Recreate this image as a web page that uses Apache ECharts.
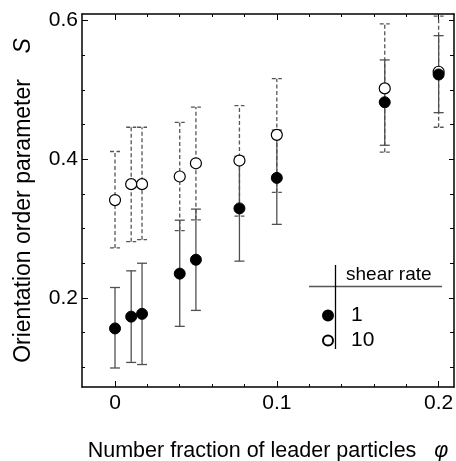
<!DOCTYPE html>
<html>
<head>
<meta charset="utf-8">
<script src="https://cdn.jsdelivr.net/npm/echarts@6/dist/echarts.min.js"></script>
<style>
  html, body { margin: 0; padding: 0; background: #fff; }
  #chart { width: 456px; height: 461px; }
</style>
</head>
<body>
<div id="chart"></div>
<script>
// number fraction of leader particles
const phi = [0, 0.01, 0.0167, 0.04, 0.05, 0.0769, 0.1, 0.1667, 0.2]

// shear rate 1 (filled)
const S1 = [0.156, 0.173, 0.177, 0.235, 0.255, 0.329, 0.373, 0.482, 0.522]
const lo1 = [0.099, 0.107, 0.104, 0.159, 0.182, 0.253, 0.306, 0.420, 0.467]
const hi1 = [0.215, 0.239, 0.250, 0.312, 0.328, 0.404, 0.442, 0.543, 0.578]

// shear rate 10 (open)
const S10 = [0.341, 0.364, 0.364, 0.375, 0.394, 0.398, 0.435, 0.502, 0.526]
const lo10 = [0.272, 0.281, 0.284, 0.297, 0.3125, 0.318, 0.352, 0.410, 0.446]
const hi10 = [0.411, 0.446, 0.446, 0.453, 0.475, 0.477, 0.516, 0.595, 0.606]

const xMajor = [0, 0.1, 0.2]
const xMinor = [0.02, 0.04, 0.06, 0.08, 0.12, 0.14, 0.16, 0.18]
const yMajor = [0.2, 0.4, 0.6]
const yMinor = [0.1, 0.15, 0.25, 0.3, 0.35, 0.45, 0.5, 0.55]

const FONT = '"Liberation Sans", Arial, sans-serif'
const X_MIN = -0.0204, X_MAX = 0.2095
const Y_MIN = 0.0716, Y_MAX = 0.6092

const chart = echarts.init(document.getElementById('chart'))

const mkX = (position, ticks, len, withLine, withLabel) => ({
  type: 'value',
  position,
  min: X_MIN,
  max: X_MAX,
  splitLine: { show: false },
  axisLine: { show: withLine, onZero: false, lineStyle: { color: '#000', width: 1.5 } },
  axisTick: { show: true, inside: true, length: len, customValues: ticks, lineStyle: { color: '#000', width: 1 } },
  axisLabel: {
    show: withLabel,
    customValues: ticks,
    margin: 6,
    color: '#000',
    fontSize: 21,
    fontFamily: FONT,
    formatter: v => String(+v.toFixed(2))
  }
})

const mkY = (position, ticks, len, withLine, withLabel) => ({
  type: 'value',
  position,
  min: Y_MIN,
  max: Y_MAX,
  splitLine: { show: false },
  axisLine: { show: withLine, onZero: false, lineStyle: { color: '#000', width: 1.5 } },
  axisTick: { show: true, inside: true, length: len, customValues: ticks, lineStyle: { color: '#000', width: 1 } },
  axisLabel: {
    show: withLabel,
    customValues: ticks,
    margin: 4,
    color: '#000',
    fontSize: 21,
    fontFamily: FONT,
    formatter: v => String(+v.toFixed(2))
  }
})

const xAxes = [
  mkX('bottom', xMajor, 6, true, true),
  mkX('bottom', xMinor, 3, false, false),
  mkX('top', xMajor, 6, true, false),
  mkX('top', xMinor, 3, false, false),
]
Object.assign(xAxes[0], {
  name: 'Number fraction of leader particles   {i|φ}',
  nameLocation: 'middle',
  nameGap: 53,
  nameTextStyle: {
    color: '#000', fontSize: 21.5, fontFamily: FONT,
    rich: { i: { fontStyle: 'italic', fontSize: 21.5, fontFamily: FONT, color: '#000' } }
  }
})

const yAxes = [
  mkY('left', yMajor, 6, true, true),
  mkY('left', yMinor, 3, false, false),
  mkY('right', yMajor, 5, true, false),
  mkY('right', yMinor, 4, false, false),
]
Object.assign(yAxes[0], {
  name: 'Orientation order parameter    {i|S}',
  nameLocation: 'middle',
  nameGap: 47,
  nameTextStyle: {
    color: '#000', fontSize: 23, fontFamily: FONT,
    rich: { i: { fontStyle: 'italic', fontSize: 23, fontFamily: FONT, color: '#000' } }
  }
})

const errorBars = (lo, hi, dashed, color) => ({
  type: 'custom',
  name: dashed ? 'err10' : 'err1',
  xAxisIndex: 0,
  yAxisIndex: 0,
  silent: true,
  data: phi.map((x, i) => [x, lo[i], hi[i]]),
  renderItem: (params, api) => {
    const x = api.value(0)
    const pLo = api.coord([x, api.value(1)])
    const pHi = api.coord([x, api.value(2)])
    const w = 5
    const style = { stroke: color, lineWidth: 1.3, lineDash: dashed ? [4, 2.5] : null }
    return {
      type: 'group',
      children: [
        { type: 'line', shape: { x1: pLo[0], y1: pLo[1], x2: pHi[0], y2: pHi[1] }, style },
        { type: 'line', shape: { x1: pLo[0] - w, y1: pLo[1], x2: pLo[0] + w, y2: pLo[1] }, style },
        { type: 'line', shape: { x1: pHi[0] - w, y1: pHi[1], x2: pHi[0] + w, y2: pHi[1] }, style },
      ]
    }
  },
  z: 2
})

chart.setOption({
  animation: false,
  backgroundColor: '#fff',
  grid: { left: 82, right: 2, top: 14, bottom: 74, containLabel: false, outerBoundsMode: 'none' },
  xAxis: xAxes,
  yAxis: yAxes,
  legend: {
    orient: 'vertical',
    left: 317,
    top: 300,
    itemGap: 4,
    itemWidth: 10,
    itemHeight: 10,
    data: ['1', '10'],
    textStyle: { color: '#000', fontSize: 21, fontFamily: FONT, lineHeight: 21, padding: [0, 0, 0, 13] },
    selectedMode: false
  },
  graphic: [
    { type: 'text', left: 346, top: 265, style: { text: 'shear rate', fontSize: 19, fontFamily: FONT, fill: '#000' } },
    { type: 'line', shape: { x1: 309, y1: 286.5, x2: 442, y2: 286.5 }, style: { stroke: '#555', lineWidth: 1.3 } },
    { type: 'line', shape: { x1: 335.5, y1: 265, x2: 335.5, y2: 349 }, style: { stroke: '#000', lineWidth: 1.3 } },
  ],
  series: [
    errorBars(lo10, hi10, true, '#555'),
    errorBars(lo1, hi1, false, '#505050'),
    {
      type: 'scatter',
      name: '10',
      xAxisIndex: 0,
      yAxisIndex: 0,
      data: phi.map((x, i) => [x, S10[i]]),
      symbol: 'circle',
      symbolSize: 11,
      itemStyle: { color: '#fff', borderColor: '#000', borderWidth: 1.2, opacity: 1 },
      z: 3
    },
    {
      type: 'scatter',
      name: '1',
      xAxisIndex: 0,
      yAxisIndex: 0,
      data: phi.map((x, i) => [x, S1[i]]),
      symbol: 'circle',
      symbolSize: 11,
      itemStyle: { color: '#000', borderColor: '#000', borderWidth: 1, opacity: 1 },
      z: 4
    }
  ]
})
</script>
</body>
</html>
